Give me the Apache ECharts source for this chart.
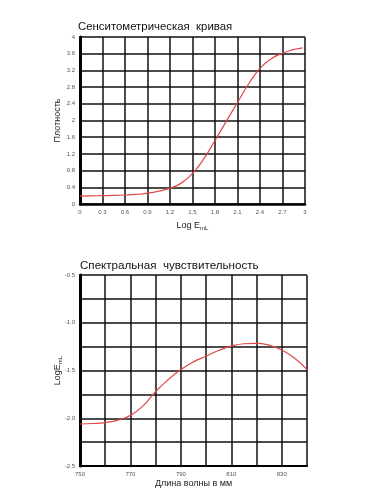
<!DOCTYPE html>
<html><head><meta charset="utf-8">
<script src="https://cdn.jsdelivr.net/npm/echarts@6/dist/echarts.min.js"></script>
<style>html,body{margin:0;padding:0;background:#fff}#c{width:377px;height:500px}</style>
</head><body><div id="c"></div>
<script>
// Sensitometric curve
const sensLogE = [0, 0.15, 0.3, 0.45, 0.6, 0.75, 0.9, 1.05, 1.2, 1.35, 1.5, 1.65, 1.8, 1.95, 2.1, 2.25, 2.4, 2.55, 2.7, 2.85, 2.97];
const sensDensity = [0.19, 0.195, 0.2, 0.205, 0.215, 0.23, 0.26, 0.31, 0.38, 0.5, 0.73, 1.08, 1.52, 1.98, 2.43, 2.88, 3.25, 3.48, 3.61, 3.7, 3.74];
// Spectral sensitivity
const specWavelength = [750, 755, 760, 765, 770, 775, 780, 785, 790, 795, 800, 805, 810, 815, 820, 825, 830, 835, 840];
const specLogE = [-2.06, -2.055, -2.045, -2.02, -1.97, -1.87, -1.72, -1.595, -1.49, -1.41, -1.35, -1.29, -1.245, -1.22, -1.215, -1.235, -1.285, -1.37, -1.49];
const sensXLabels = [0, 0.3, 0.6, 0.9, 1.2, 1.5, 1.8, 2.1, 2.4, 2.7, 3];
const specXLabels = [750, 770, 790, 810, 830];
const specYLabels = [-0.5, -1.0, -1.5, -2.0, -2.5];

const chart = echarts.init(document.getElementById('c'));
const lbl = {fontSize: 6, color: '#555', fontFamily: 'Liberation Sans'};
const split = {show: true, lineStyle: {color: '#111', width: 1.5}};
const nameStyle = {fontSize: 9, color: '#222', fontFamily: 'Liberation Sans'};
const subRich = {s: {fontSize: 6, verticalAlign: 'bottom', padding: [5, 0, 0, 0], color: '#222'}};
chart.setOption({
  animation: false,
  title: [
    {text: 'Сенситометрическая  кривая', left: 73, top: 16, textStyle: {fontSize: 11.4, fontWeight: 'normal', color: '#111', fontFamily: 'Liberation Sans'}},
    {text: 'Спектральная  чувствительность', left: 75, top: 255, textStyle: {fontSize: 11.6, fontWeight: 'normal', color: '#111', fontFamily: 'Liberation Sans'}}
  ],
  grid: [
    {left: 80, top: 37, width: 225, height: 167, show: false},
    {left: 80, top: 275, width: 227, height: 191, show: false}
  ],
  xAxis: [
    {type: 'value', gridIndex: 0, min: 0, max: 3, interval: 0.3,
     name: 'Log E{s|mL}', nameLocation: 'middle', nameGap: 16, nameMoveOverlap: false,
     nameTextStyle: Object.assign({}, nameStyle, {rich: subRich}),
     axisLine: {show: true, lineStyle: {color: '#000', width: 2.5}}, axisTick: {show: false},
     axisLabel: Object.assign({}, lbl, {margin: 5, formatter: v => {const r = Math.round(v * 10) / 10; return sensXLabels.includes(r) ? String(r) : '';}}),
     splitLine: split},
    {type: 'value', gridIndex: 1, min: 750, max: 840, interval: 10,
     name: 'Длина волны в мм', nameLocation: 'middle', nameGap: 13, nameMoveOverlap: false, nameTextStyle: nameStyle,
     axisLine: {show: true, lineStyle: {color: '#000', width: 2}}, axisTick: {show: false},
     axisLabel: Object.assign({}, lbl, {margin: 5, formatter: v => specXLabels.includes(v) ? String(v) : ''}),
     splitLine: split}
  ],
  yAxis: [
    {type: 'value', gridIndex: 0, min: 0, max: 4, interval: 0.4,
     name: 'Плотность', nameLocation: 'middle', nameGap: 18, nameMoveOverlap: false, nameRotate: 90, nameTextStyle: nameStyle,
     axisLine: {show: true, lineStyle: {color: '#000', width: 3}}, axisTick: {show: false},
     axisLabel: Object.assign({}, lbl, {margin: 5, formatter: v => String(Math.round(v * 10) / 10)}),
     splitLine: split},
    {type: 'value', gridIndex: 1, min: -2.5, max: -0.5, interval: 0.25,
     name: 'LogE{s|mL}', nameLocation: 'middle', nameGap: 17, nameMoveOverlap: false, nameRotate: 90,
     nameTextStyle: Object.assign({}, nameStyle, {rich: subRich}),
     axisLine: {show: true, lineStyle: {color: '#000', width: 3}}, axisTick: {show: false},
     axisLabel: Object.assign({}, lbl, {margin: 5, formatter: v => {const r = Math.round(v * 100) / 100; return specYLabels.includes(r) ? r.toFixed(1) : '';}}),
     splitLine: split}
  ],
  series: [
    {type: 'line', xAxisIndex: 0, yAxisIndex: 0, smooth: true, symbol: 'none',
     lineStyle: {color: '#e04848', width: 1.2},
     data: sensLogE.map((x, i) => [x, sensDensity[i]])},
    {type: 'line', xAxisIndex: 1, yAxisIndex: 1, smooth: true, symbol: 'none',
     lineStyle: {color: '#e04848', width: 1.2},
     data: specWavelength.map((x, i) => [x, specLogE[i]])}
  ]
});
</script></body></html>
